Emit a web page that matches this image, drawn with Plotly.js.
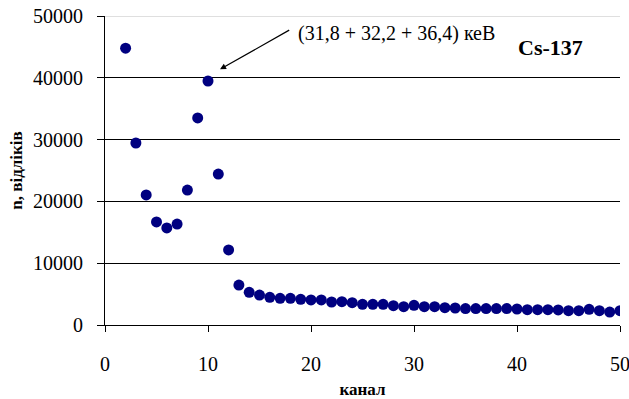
<!DOCTYPE html>
<html><head><meta charset="utf-8">
<script src="https://cdn.plot.ly/plotly-3.0.1.min.js"></script>
<style>html,body{margin:0;padding:0;background:#fff}</style>
</head><body>
<div id="chart" style="width:629px;height:399px"></div>
<script>
const channels = [2,3,4,5,6,7,8,9,10,11,12,13,14,15,16,17,18,19,20,21,22,23,24,25,26,27,28,29,30,31,32,33,34,35,36,37,38,39,40,41,42,43,44,45,46,47,48,49,50];
const counts = [44800,29450,21040,16670,15700,16340,21840,33500,39480,24430,12140,6470,5290,4850,4480,4320,4320,4160,4050,4050,3720,3770,3610,3350,3350,3350,3120,2960,3180,2960,2960,2800,2750,2650,2650,2650,2650,2650,2590,2480,2480,2480,2430,2320,2320,2530,2320,2100,2320];
const xTicks = [0,10,20,30,40,50];
const yTicks = [0,10000,20000,30000,40000,50000];
const peakLabel = "(31,8 + 32,2 + 36,4) кеВ";
const sourceLabel = "Cs-137";

const serif = "Liberation Serif, Times New Roman, serif";
Plotly.newPlot('chart', [{
  x: channels, y: counts, type: 'scatter', mode: 'markers',
  marker: {color: '#000080', size: 11}
}], {
  width: 629, height: 399,
  margin: {l: 105, r: 9, t: 16, b: 74},
  paper_bgcolor: '#fff', plot_bgcolor: '#fff',
  showlegend: false,
  font: {family: serif, color: '#000', size: 20},
  xaxis: {
    range: [0, 50], tickvals: xTicks, ticktext: xTicks.map(String),
    showgrid: false, zeroline: false, showline: true, linecolor: '#000', linewidth: 1,
    ticks: 'outside', ticklen: 6, tickcolor: '#000', ticklabelstandoff: 15, ticklabeloverflow: 'allow',
    tickfont: {family: serif, size: 20},
    title: {text: 'канал', font: {family: serif, size: 17, weight: 'bold'}, standoff: 20}
  },
  yaxis: {
    range: [0, 50000], tickvals: yTicks, ticktext: yTicks.map(String),
    showgrid: true, gridcolor: '#000', gridwidth: 1, zeroline: false,
    showline: true, linecolor: '#000', linewidth: 1,
    ticks: 'outside', ticklen: 7, tickcolor: '#000', ticklabelstandoff: 10,
    tickfont: {family: serif, size: 20},
    title: {text: 'n, відліків', font: {family: serif, size: 17, weight: 'bold'}, standoff: 6}
  },
  shapes: [{type: 'line', xref: 'paper', yref: 'y', x0: 0, x1: 1, y0: 50000, y1: 50000, line: {color: '#c0c0c0', width: 1}}],
  annotations: [
    {x: 11.17, y: 41370, xref: 'x', yref: 'y', ax: 18.03, ay: 47850, axref: 'x', ayref: 'y',
     text: '', showarrow: true, arrowhead: 2, arrowsize: 1, arrowwidth: 1.2, arrowcolor: '#000', standoff: 0},
    {x: 18.54, y: 47250, xref: 'x', yref: 'y', xanchor: 'left', yanchor: 'middle', showarrow: false,
     text: peakLabel, font: {family: serif, size: 20, color: '#000'}},
    {x: 43.3, y: 44980, xref: 'x', yref: 'y', xanchor: 'center', yanchor: 'middle', showarrow: false,
     text: '<b>' + sourceLabel + '</b>', font: {family: serif, size: 22, color: '#000'}}
  ]
}, {displayModeBar: false, staticPlot: true});
</script>
</body></html>
